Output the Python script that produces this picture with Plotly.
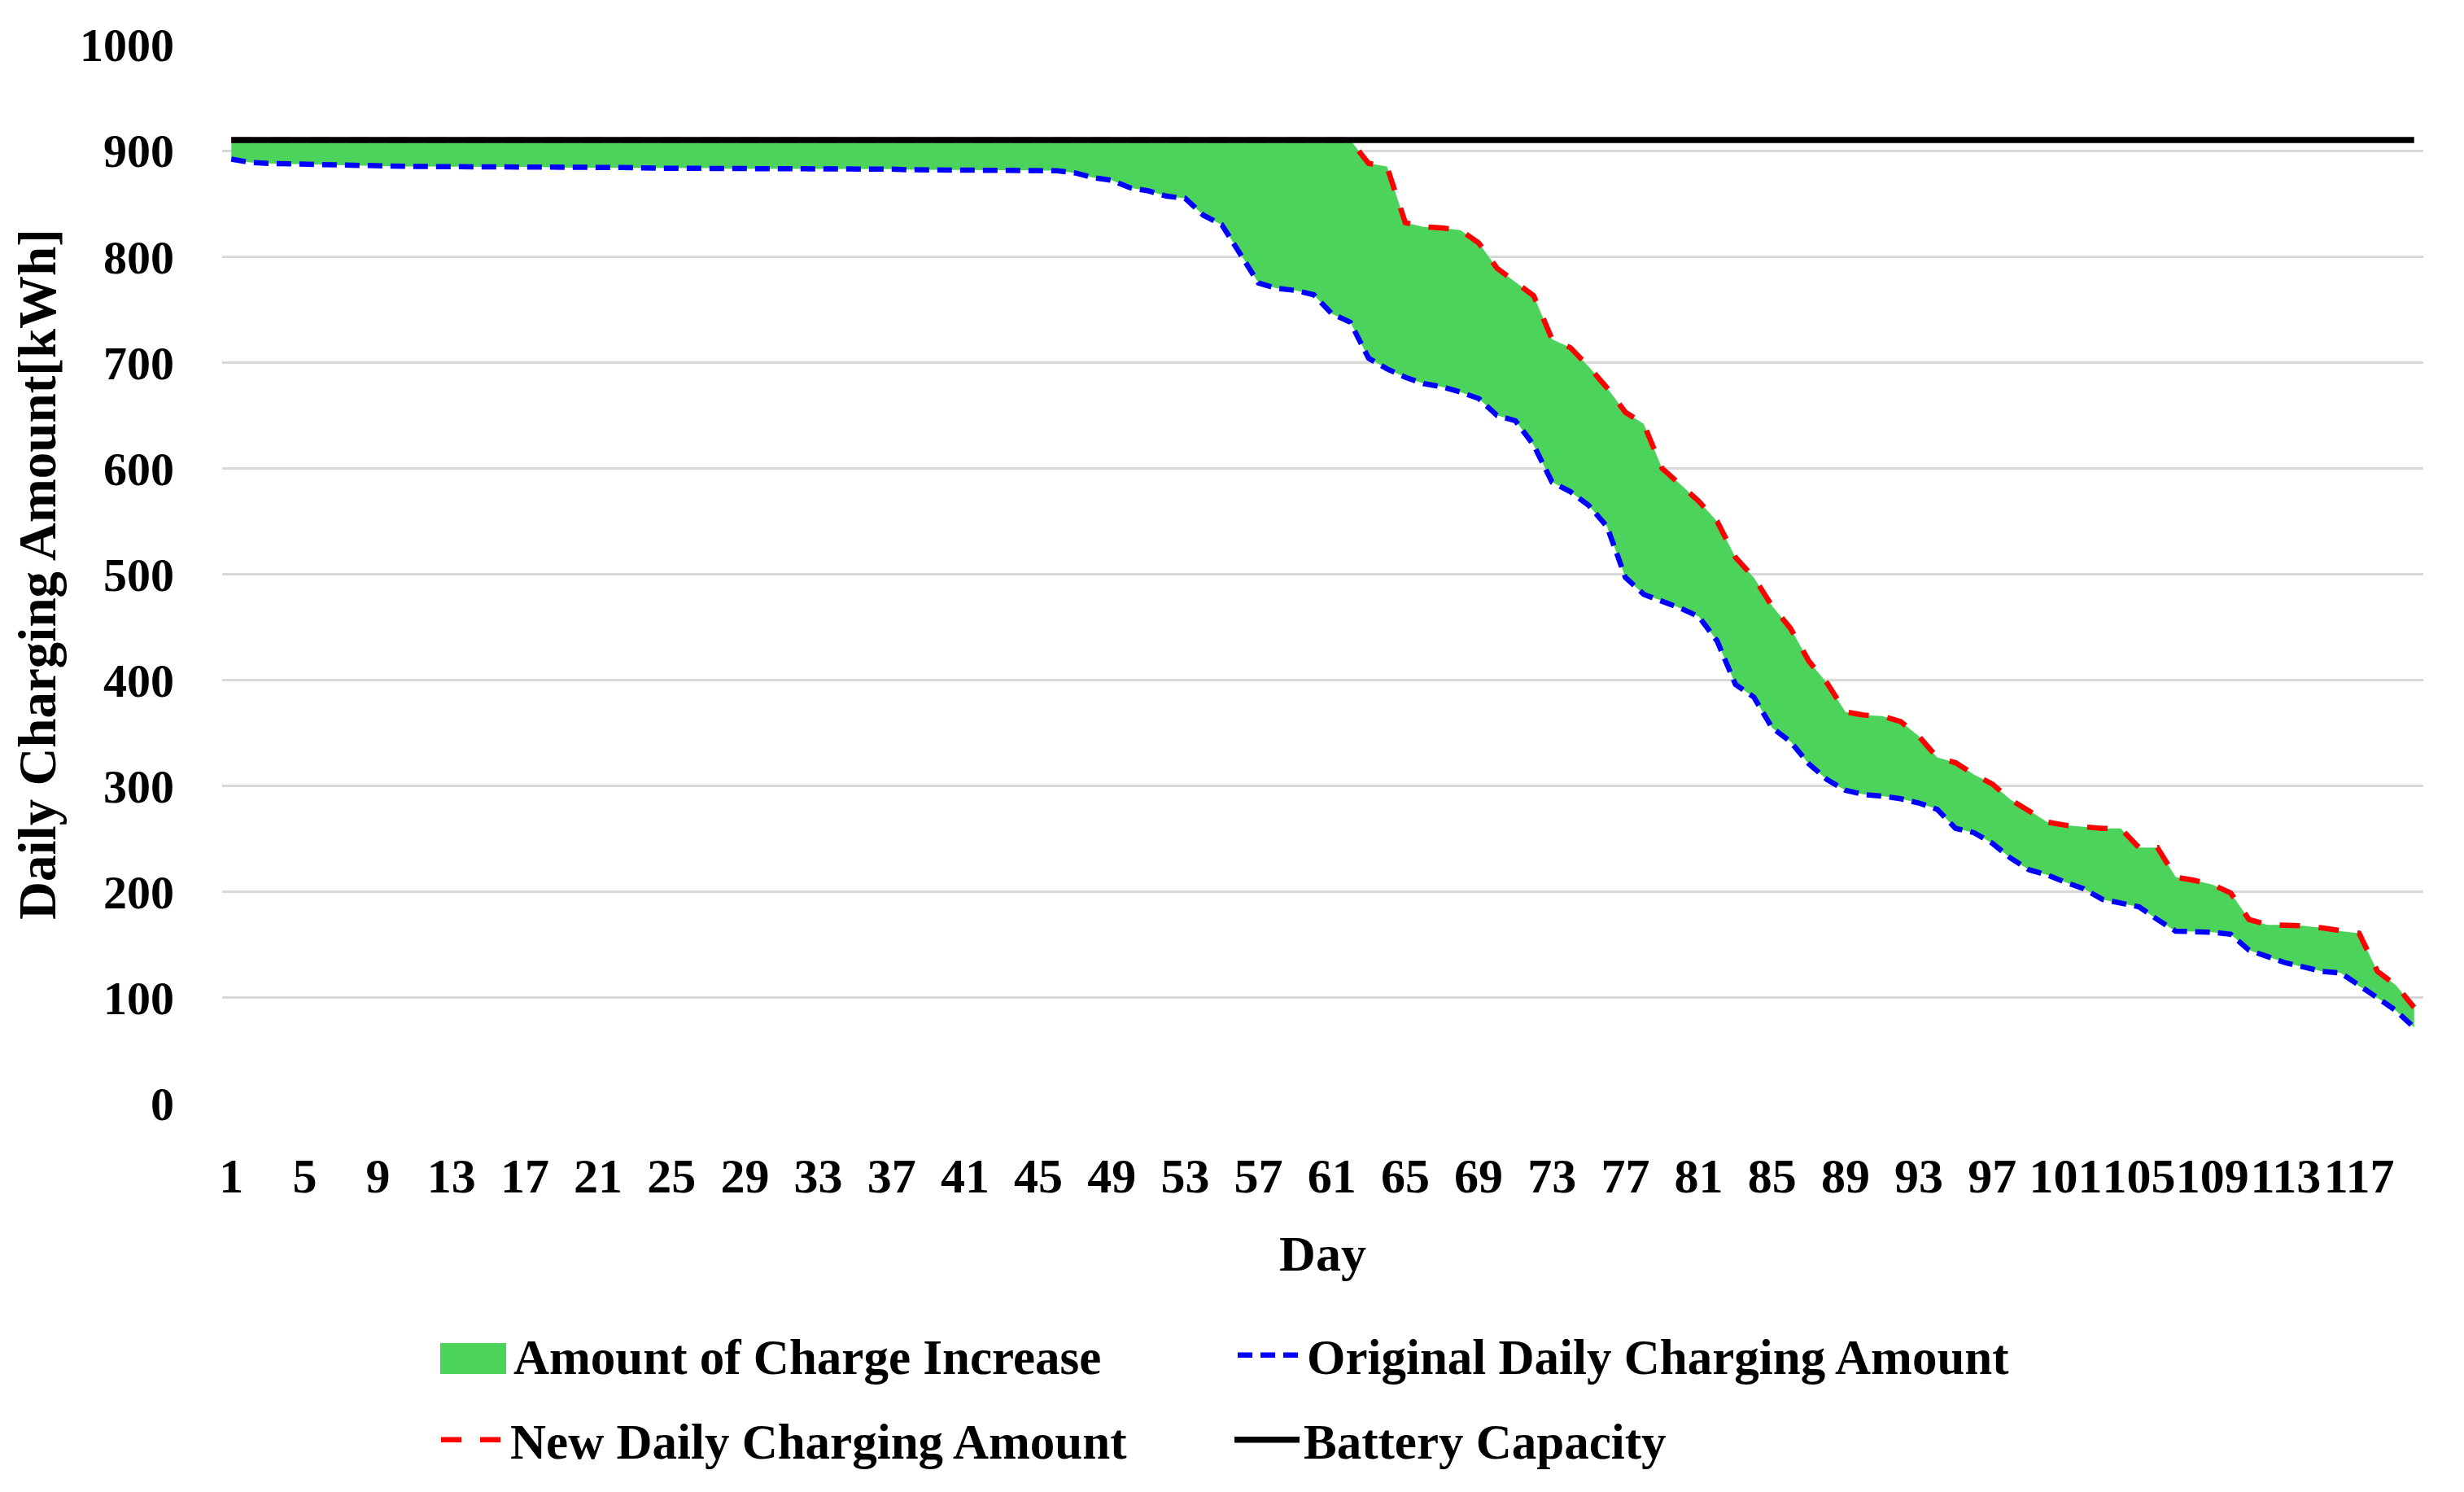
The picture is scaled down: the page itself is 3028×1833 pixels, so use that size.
import plotly.graph_objects as go

# ---------------- data ----------------
days = list(range(1, 121))

original_daily = [
    892, 889, 888, 887.5, 887, 886.5, 886, 885.5, 885, 885,
    885, 885, 885, 884.5, 884.5, 884.5, 884.5, 884.5, 884, 884,
    884, 884, 884, 883.5, 883.5, 883.5, 883.5, 883, 883, 883,
    883, 883, 883, 882.5, 882.5, 882.5, 882.5, 882, 882, 882,
    882, 882, 882, 882, 881.5, 881, 879, 874.5, 872, 865,
    862, 857, 855, 839, 830, 803, 775, 770, 768, 764,
    746, 738, 704, 694, 686, 680, 677, 672, 666, 650,
    645, 622, 587, 578, 565, 545, 497, 481, 475, 468,
    460, 437, 396, 384, 355, 342, 321, 306, 296, 292,
    290.5, 288, 284, 278, 260, 256, 246, 232, 221, 216,
    209, 203, 193, 189, 186, 174, 163, 162.5, 162, 160,
    145, 139, 133, 129, 125, 123.5, 111, 100, 88, 72,
]

new_daily = [
    910, 910, 910, 910, 910, 910, 910, 910, 910, 910,
    910, 910, 910, 910, 910, 910, 910, 910, 910, 910,
    910, 910, 910, 910, 910, 910, 910, 910, 910, 910,
    910, 910, 910, 910, 910, 910, 910, 910, 910, 910,
    910, 910, 910, 910, 910, 910, 910, 910, 910, 910,
    910, 910, 910, 910, 910, 910, 910, 910, 910, 910,
    910, 910, 888, 885, 832, 828, 827, 825, 813, 789,
    776, 763, 722, 714, 696, 676, 653, 642, 600, 585,
    569, 550, 516, 497, 470, 449, 418, 397, 370, 367,
    366, 361, 347, 327, 322, 311, 302, 287, 277, 266,
    263, 261.5, 260, 260, 242, 242, 214, 211, 207, 199,
    174, 169, 169, 168, 166, 163, 161, 125, 112, 91,
]

battery_capacity = [
    910, 910, 910, 910, 910, 910, 910, 910, 910, 910,
    910, 910, 910, 910, 910, 910, 910, 910, 910, 910,
    910, 910, 910, 910, 910, 910, 910, 910, 910, 910,
    910, 910, 910, 910, 910, 910, 910, 910, 910, 910,
    910, 910, 910, 910, 910, 910, 910, 910, 910, 910,
    910, 910, 910, 910, 910, 910, 910, 910, 910, 910,
    910, 910, 910, 910, 910, 910, 910, 910, 910, 910,
    910, 910, 910, 910, 910, 910, 910, 910, 910, 910,
    910, 910, 910, 910, 910, 910, 910, 910, 910, 910,
    910, 910, 910, 910, 910, 910, 910, 910, 910, 910,
    910, 910, 910, 910, 910, 910, 910, 910, 910, 910,
    910, 910, 910, 910, 910, 910, 910, 910, 910, 910,
]

x_tick_vals = [1, 5, 9, 13, 17, 21, 25, 29, 33, 37, 41, 45, 49, 53, 57,
               61, 65, 69, 73, 77, 81, 85, 89, 93, 97, 101, 105, 109, 113, 117]
x_tick_text = [str(v) for v in x_tick_vals]
y_tick_vals = [0, 100, 200, 300, 400, 500, 600, 700, 800, 900, 1000]

# ---------------- style ----------------
FONT = "Liberation Serif"
GREEN = "#4BD35C"
BLUE = "#0000FF"
RED = "#FF0000"
GRID = "#D9D9D9"

# plot area in pixels (for placing legend items in paper coordinates)
PL, PR, PT, PB = 273, 2978, 55, 1356
PW, PH = PR - PL, PB - PT


def px_x(x):
    return (x - PL) / PW


def px_y(y):
    return (PB - y) / PH


fig = go.Figure()

# invisible base for the filled band
fig.add_trace(go.Scatter(
    x=days, y=original_daily, mode="lines",
    line=dict(width=0, color=BLUE), showlegend=False, hoverinfo="skip",
))
fig.add_trace(go.Scatter(
    x=days, y=new_daily, mode="lines", fill="tonexty",
    fillcolor=GREEN, line=dict(width=0, color=GREEN),
    name="Amount of Charge Increase", showlegend=False,
))
# legend entry for the band (its swatch is drawn as a shape below)
fig.add_trace(go.Scatter(
    x=[None], y=[None], mode="lines",
    line=dict(width=0, color="rgba(0,0,0,0)"),
    name="Amount of Charge Increase", legend="legend",
))
fig.add_trace(go.Scatter(
    x=days, y=original_daily, mode="lines",
    line=dict(color=BLUE, width=6.5, dash="18px,10px"),
    name="Original Daily Charging Amount", legend="legend",
))
fig.add_trace(go.Scatter(
    x=days, y=new_daily, mode="lines",
    line=dict(color=RED, width=6.5, dash="25px,23px"),
    name="New Daily Charging Amount", legend="legend2",
))
fig.add_trace(go.Scatter(
    x=days, y=battery_capacity, mode="lines",
    line=dict(color="#000000", width=7.5),
    name="Battery Capacity", legend="legend2",
))

legend_common = dict(
    orientation="h", xanchor="left", yanchor="middle",
    font=dict(family=FONT, size=61, color="#000000", weight="bold"),
    itemwidth=80, entrywidth=880, entrywidthmode="pixels",
    bgcolor="rgba(0,0,0,0)", borderwidth=0, traceorder="normal",
)

fig.update_layout(
    width=3028, height=1833,
    margin=dict(l=PL, r=3028 - PR, t=PT, b=1833 - PB, autoexpand=False),
    paper_bgcolor="#FFFFFF", plot_bgcolor="#FFFFFF",
    font=dict(family=FONT, size=60, color="#000000"),
    showlegend=True,
    legend=dict(x=px_x(541), y=px_y(1665), **legend_common),
    legend2=dict(x=px_x(537), y=px_y(1769), **legend_common),
    shapes=[dict(
        type="rect", xref="paper", yref="paper",
        x0=px_x(541), x1=px_x(622), y0=px_y(1688), y1=px_y(1650),
        fillcolor=GREEN, line=dict(width=0), layer="above",
    )],
    xaxis=dict(
        range=[0.5, 120.5], tickmode="array", tickvals=x_tick_vals,
        ticktext=x_tick_text, tickangle=0, showgrid=False, zeroline=False,
        showline=False, ticks="", ticklabelstandoff=48,
        tickfont=dict(family=FONT, size=60, color="#000000", weight="bold"),
        title=dict(text="Day", standoff=40,
                   font=dict(family=FONT, size=62, color="#000000", weight="bold")),
        automargin=False,
    ),
    yaxis=dict(
        range=[0, 1000], tickmode="array", tickvals=y_tick_vals,
        showgrid=True, gridcolor=GRID, gridwidth=3, zeroline=False,
        showline=False, ticks="", ticklabelstandoff=58,
        tickfont=dict(family=FONT, size=58, color="#000000", weight="bold"),
        title=dict(text="Daily Charging Amount[kWh]", standoff=8,
                   font=dict(family=FONT, size=65, color="#000000", weight="bold")),
        automargin=False,
    ),
)

fig.write_html("out.html", config={"displayModeBar": False},
               post_script="document.body.style.margin='0';")
